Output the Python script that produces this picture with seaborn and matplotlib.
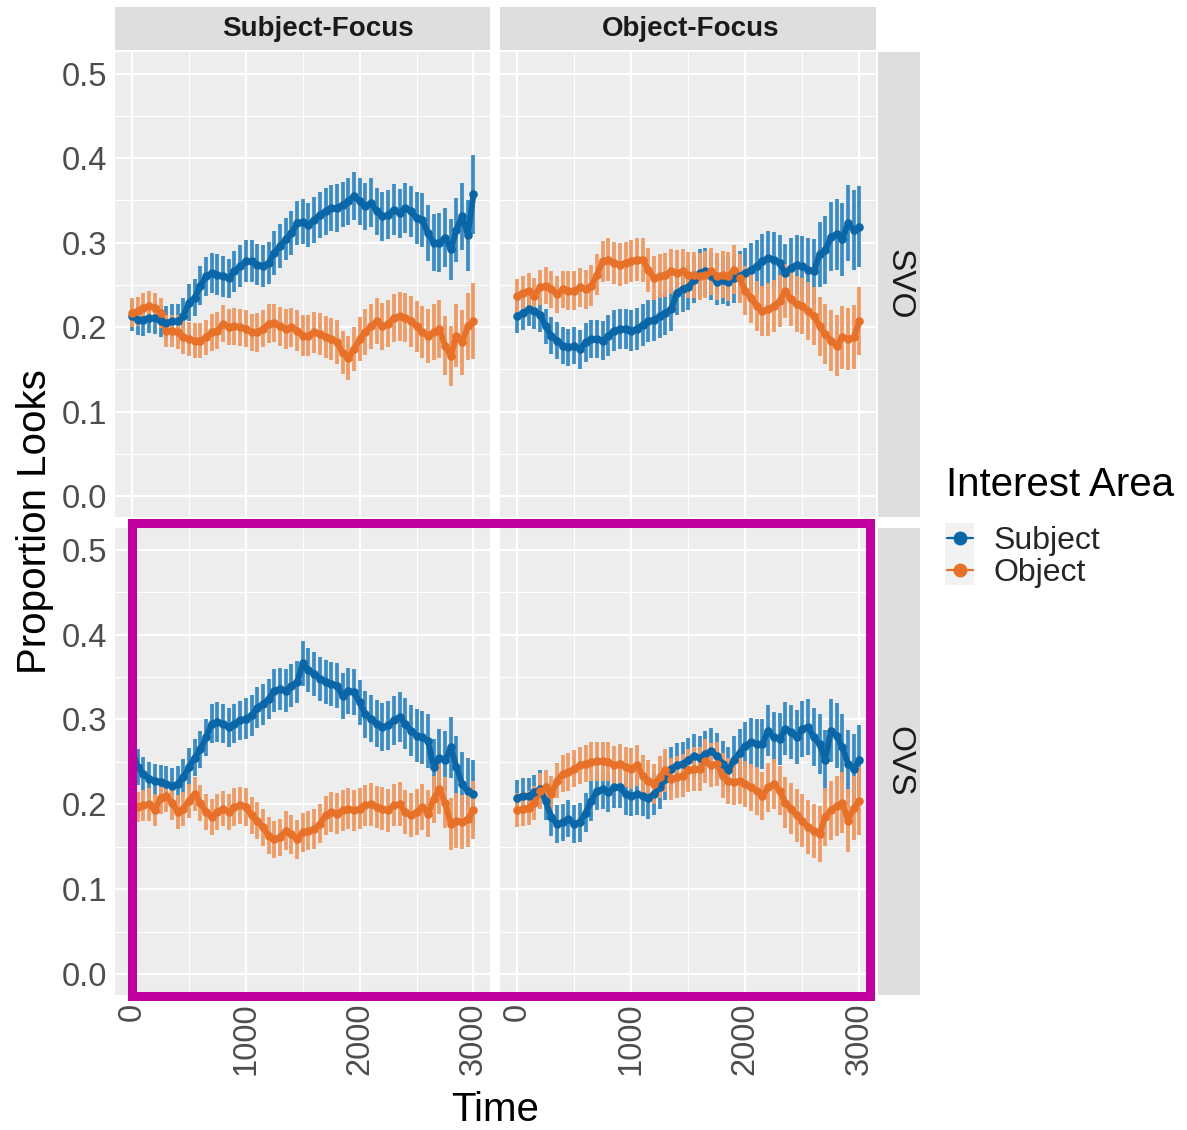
import matplotlib
matplotlib.use("Agg")
import matplotlib.pyplot as plt
import seaborn as sns
import pandas as pd
from matplotlib.patches import Rectangle
from matplotlib.lines import Line2D

# ---------------------------------------------------------------- data
time_ms = list(range(0, 3001, 50))
focus_levels = ["Subject-Focus", "Object-Focus"]
order_levels = ["SVO", "OVS"]
areas = ["Subject", "Object"]
x_ticks = [0, 1000, 2000, 3000]
y_ticks = [0.0, 0.1, 0.2, 0.3, 0.4, 0.5]

# SVO, Subject-Focus
svo_sf_subject = [0.213, 0.209, 0.209, 0.211, 0.211, 0.207, 0.205, 0.207, 0.207, 0.213,
                  0.229, 0.235, 0.249, 0.260, 0.264, 0.262, 0.260, 0.258, 0.266, 0.272,
                  0.278, 0.278, 0.274, 0.272, 0.276, 0.288, 0.296, 0.304, 0.311, 0.323,
                  0.325, 0.321, 0.327, 0.333, 0.337, 0.341, 0.341, 0.345, 0.349, 0.355,
                  0.349, 0.343, 0.347, 0.337, 0.331, 0.333, 0.339, 0.335, 0.341, 0.337,
                  0.329, 0.327, 0.311, 0.300, 0.300, 0.306, 0.292, 0.315, 0.331, 0.309, 0.357]
svo_sf_object = [0.217, 0.219, 0.223, 0.225, 0.223, 0.217, 0.196, 0.196, 0.194, 0.188,
                 0.186, 0.184, 0.184, 0.188, 0.194, 0.196, 0.204, 0.200, 0.201, 0.200,
                 0.198, 0.194, 0.194, 0.198, 0.204, 0.205, 0.201, 0.198, 0.200, 0.196,
                 0.190, 0.190, 0.194, 0.192, 0.188, 0.186, 0.182, 0.170, 0.164, 0.174,
                 0.186, 0.194, 0.201, 0.207, 0.201, 0.204, 0.211, 0.213, 0.211, 0.207,
                 0.201, 0.194, 0.190, 0.194, 0.198, 0.178, 0.166, 0.190, 0.182, 0.201, 0.207]
svo_sf_subject_se = [0.018, 0.018, 0.019, 0.018, 0.019, 0.019, 0.020, 0.020, 0.020, 0.021,
                     0.022, 0.022, 0.023, 0.023, 0.024, 0.024, 0.024, 0.023, 0.024, 0.025,
                     0.025, 0.025, 0.024, 0.025, 0.025, 0.026, 0.026, 0.025, 0.026, 0.026,
                     0.027, 0.026, 0.027, 0.027, 0.028, 0.027, 0.028, 0.027, 0.028, 0.028,
                     0.028, 0.028, 0.029, 0.028, 0.029, 0.029, 0.030, 0.029, 0.030, 0.030,
                     0.031, 0.032, 0.033, 0.034, 0.035, 0.035, 0.036, 0.038, 0.040, 0.042, 0.047]
svo_sf_object_se = [0.017, 0.017, 0.018, 0.018, 0.018, 0.018, 0.019, 0.019, 0.020, 0.020,
                    0.020, 0.021, 0.021, 0.021, 0.022, 0.022, 0.022, 0.021, 0.022, 0.022,
                    0.022, 0.022, 0.023, 0.022, 0.023, 0.023, 0.023, 0.024, 0.023, 0.024,
                    0.024, 0.024, 0.024, 0.025, 0.025, 0.025, 0.026, 0.025, 0.026, 0.026,
                    0.026, 0.027, 0.027, 0.027, 0.028, 0.028, 0.028, 0.029, 0.029, 0.030,
                    0.030, 0.031, 0.032, 0.033, 0.034, 0.035, 0.036, 0.037, 0.038, 0.040, 0.045]

# SVO, Object-Focus
svo_of_subject = [0.213, 0.217, 0.221, 0.219, 0.215, 0.201, 0.190, 0.184, 0.178, 0.176,
                  0.178, 0.174, 0.182, 0.186, 0.186, 0.184, 0.190, 0.196, 0.198, 0.198,
                  0.196, 0.198, 0.203, 0.207, 0.209, 0.213, 0.217, 0.221, 0.241, 0.245,
                  0.247, 0.256, 0.264, 0.266, 0.260, 0.254, 0.256, 0.254, 0.258, 0.260,
                  0.264, 0.268, 0.272, 0.278, 0.282, 0.280, 0.276, 0.264, 0.270, 0.274,
                  0.272, 0.268, 0.266, 0.286, 0.291, 0.307, 0.310, 0.304, 0.323, 0.315, 0.319]
svo_of_object = [0.237, 0.241, 0.243, 0.237, 0.247, 0.249, 0.245, 0.239, 0.245, 0.243,
                 0.243, 0.247, 0.245, 0.249, 0.262, 0.278, 0.280, 0.276, 0.274, 0.276,
                 0.278, 0.280, 0.280, 0.268, 0.258, 0.260, 0.262, 0.266, 0.264, 0.266,
                 0.262, 0.262, 0.260, 0.262, 0.266, 0.260, 0.262, 0.260, 0.268, 0.258,
                 0.243, 0.235, 0.225, 0.219, 0.221, 0.225, 0.231, 0.243, 0.233, 0.227,
                 0.225, 0.219, 0.213, 0.201, 0.192, 0.184, 0.178, 0.188, 0.186, 0.188, 0.207]
svo_of_subject_se = [0.020, 0.020, 0.020, 0.021, 0.021, 0.021, 0.022, 0.022, 0.022, 0.022,
                     0.022, 0.023, 0.023, 0.023, 0.023, 0.023, 0.024, 0.024, 0.024, 0.024,
                     0.024, 0.025, 0.025, 0.025, 0.025, 0.026, 0.026, 0.026, 0.027, 0.027,
                     0.027, 0.027, 0.028, 0.028, 0.028, 0.028, 0.029, 0.029, 0.029, 0.030,
                     0.030, 0.031, 0.031, 0.032, 0.032, 0.033, 0.033, 0.034, 0.035, 0.035,
                     0.036, 0.037, 0.038, 0.039, 0.040, 0.041, 0.042, 0.043, 0.045, 0.047, 0.048]
svo_of_object_se = [0.020, 0.020, 0.021, 0.021, 0.021, 0.022, 0.022, 0.022, 0.022, 0.023,
                    0.023, 0.023, 0.023, 0.024, 0.024, 0.024, 0.025, 0.025, 0.025, 0.025,
                    0.025, 0.025, 0.026, 0.026, 0.026, 0.026, 0.026, 0.027, 0.027, 0.027,
                    0.027, 0.027, 0.028, 0.028, 0.028, 0.028, 0.028, 0.029, 0.029, 0.029,
                    0.029, 0.030, 0.030, 0.030, 0.031, 0.031, 0.031, 0.032, 0.032, 0.033,
                    0.033, 0.034, 0.034, 0.035, 0.035, 0.036, 0.036, 0.037, 0.037, 0.038, 0.040]

# OVS, Subject-Focus
ovs_sf_subject = [0.265, 0.244, 0.236, 0.230, 0.228, 0.226, 0.224, 0.222, 0.224, 0.232,
                  0.244, 0.255, 0.265, 0.279, 0.295, 0.297, 0.295, 0.291, 0.295, 0.299,
                  0.301, 0.305, 0.314, 0.318, 0.324, 0.334, 0.336, 0.334, 0.340, 0.344,
                  0.366, 0.358, 0.354, 0.348, 0.344, 0.342, 0.340, 0.328, 0.334, 0.332,
                  0.320, 0.306, 0.301, 0.295, 0.291, 0.293, 0.299, 0.303, 0.295, 0.287,
                  0.281, 0.279, 0.275, 0.244, 0.255, 0.252, 0.267, 0.244, 0.224, 0.216, 0.212]
ovs_sf_object = [0.191, 0.197, 0.199, 0.200, 0.193, 0.208, 0.210, 0.202, 0.191, 0.195,
                 0.204, 0.212, 0.202, 0.191, 0.185, 0.191, 0.195, 0.191, 0.197, 0.199,
                 0.197, 0.187, 0.181, 0.173, 0.163, 0.159, 0.161, 0.169, 0.165, 0.159,
                 0.167, 0.169, 0.171, 0.177, 0.187, 0.191, 0.189, 0.193, 0.195, 0.193,
                 0.195, 0.199, 0.200, 0.197, 0.195, 0.193, 0.199, 0.200, 0.191, 0.187,
                 0.191, 0.197, 0.189, 0.206, 0.218, 0.202, 0.177, 0.181, 0.179, 0.183, 0.193]
ovs_sf_subject_se = [0.022, 0.021, 0.020, 0.020, 0.020, 0.020, 0.021, 0.021, 0.021, 0.021,
                     0.022, 0.022, 0.022, 0.022, 0.023, 0.023, 0.023, 0.023, 0.023, 0.023,
                     0.024, 0.024, 0.024, 0.024, 0.024, 0.025, 0.025, 0.025, 0.025, 0.025,
                     0.026, 0.026, 0.026, 0.026, 0.026, 0.026, 0.027, 0.027, 0.027, 0.027,
                     0.027, 0.028, 0.028, 0.028, 0.028, 0.029, 0.029, 0.029, 0.030, 0.030,
                     0.031, 0.031, 0.032, 0.033, 0.034, 0.035, 0.036, 0.037, 0.038, 0.039, 0.040]
ovs_sf_object_se = [0.018, 0.018, 0.018, 0.019, 0.019, 0.019, 0.019, 0.020, 0.020, 0.020,
                    0.020, 0.020, 0.021, 0.021, 0.021, 0.021, 0.021, 0.021, 0.022, 0.022,
                    0.022, 0.022, 0.022, 0.022, 0.022, 0.022, 0.022, 0.023, 0.023, 0.023,
                    0.023, 0.023, 0.023, 0.023, 0.023, 0.024, 0.024, 0.024, 0.024, 0.024,
                    0.024, 0.024, 0.025, 0.025, 0.025, 0.025, 0.025, 0.026, 0.026, 0.026,
                    0.027, 0.027, 0.028, 0.028, 0.029, 0.030, 0.031, 0.032, 0.032, 0.033, 0.034]

# OVS, Object-Focus
ovs_of_subject = [0.208, 0.210, 0.210, 0.214, 0.218, 0.204, 0.185, 0.177, 0.179, 0.183,
                  0.177, 0.179, 0.190, 0.204, 0.216, 0.218, 0.214, 0.220, 0.220, 0.212,
                  0.210, 0.212, 0.210, 0.208, 0.212, 0.220, 0.230, 0.242, 0.246, 0.248,
                  0.252, 0.257, 0.255, 0.259, 0.263, 0.257, 0.248, 0.240, 0.252, 0.261,
                  0.269, 0.273, 0.271, 0.271, 0.287, 0.279, 0.277, 0.289, 0.285, 0.279,
                  0.289, 0.291, 0.279, 0.271, 0.252, 0.287, 0.281, 0.267, 0.248, 0.242, 0.252]
ovs_of_object = [0.193, 0.195, 0.196, 0.202, 0.216, 0.220, 0.212, 0.228, 0.236, 0.238,
                 0.242, 0.246, 0.248, 0.250, 0.251, 0.251, 0.250, 0.246, 0.248, 0.244,
                 0.242, 0.246, 0.234, 0.228, 0.224, 0.232, 0.240, 0.230, 0.232, 0.234,
                 0.240, 0.242, 0.242, 0.251, 0.246, 0.248, 0.234, 0.228, 0.226, 0.228,
                 0.224, 0.220, 0.216, 0.210, 0.220, 0.224, 0.216, 0.202, 0.195, 0.187,
                 0.181, 0.173, 0.169, 0.165, 0.185, 0.193, 0.198, 0.202, 0.181, 0.196, 0.204]
ovs_of_subject_se = [0.021, 0.021, 0.021, 0.021, 0.022, 0.022, 0.022, 0.022, 0.022, 0.022,
                     0.022, 0.023, 0.023, 0.023, 0.023, 0.023, 0.023, 0.024, 0.024, 0.024,
                     0.024, 0.024, 0.024, 0.025, 0.025, 0.025, 0.025, 0.025, 0.026, 0.026,
                     0.026, 0.026, 0.026, 0.027, 0.027, 0.027, 0.027, 0.027, 0.028, 0.028,
                     0.028, 0.029, 0.029, 0.029, 0.030, 0.030, 0.031, 0.031, 0.032, 0.032,
                     0.033, 0.033, 0.034, 0.035, 0.036, 0.037, 0.038, 0.039, 0.040, 0.041, 0.042]
ovs_of_object_se = [0.020, 0.020, 0.020, 0.020, 0.021, 0.021, 0.021, 0.021, 0.022, 0.022,
                    0.022, 0.022, 0.022, 0.023, 0.023, 0.023, 0.023, 0.023, 0.023, 0.024,
                    0.024, 0.024, 0.024, 0.024, 0.024, 0.025, 0.025, 0.025, 0.025, 0.025,
                    0.025, 0.026, 0.026, 0.026, 0.026, 0.026, 0.026, 0.027, 0.027, 0.027,
                    0.027, 0.028, 0.028, 0.028, 0.029, 0.029, 0.029, 0.030, 0.030, 0.031,
                    0.031, 0.032, 0.032, 0.033, 0.034, 0.035, 0.035, 0.036, 0.037, 0.038, 0.040]

series = {
    ("SVO", "Subject-Focus", "Subject"): (svo_sf_subject, svo_sf_subject_se),
    ("SVO", "Subject-Focus", "Object"): (svo_sf_object, svo_sf_object_se),
    ("SVO", "Object-Focus", "Subject"): (svo_of_subject, svo_of_subject_se),
    ("SVO", "Object-Focus", "Object"): (svo_of_object, svo_of_object_se),
    ("OVS", "Subject-Focus", "Subject"): (ovs_sf_subject, ovs_sf_subject_se),
    ("OVS", "Subject-Focus", "Object"): (ovs_sf_object, ovs_sf_object_se),
    ("OVS", "Object-Focus", "Subject"): (ovs_of_subject, ovs_of_subject_se),
    ("OVS", "Object-Focus", "Object"): (ovs_of_object, ovs_of_object_se),
}

frames = []
for (order, focus, area), (mean, se) in series.items():
    frames.append(pd.DataFrame({"Time": time_ms, "Prop": mean, "SE": se,
                                "Order": order, "Focus": focus, "Area": area}))
df = pd.concat(frames, ignore_index=True)

# ---------------------------------------------------------------- style
sns.set_theme(style="white")
plt.rcParams["font.family"] = ["Liberation Sans", "DejaVu Sans"]

point_col = {"Subject": "#0B66A8", "Object": "#E8712A"}
bar_col = {"Subject": "#3C8CC4", "Object": "#EE9B66"}
PANEL_BG = "#EDEDED"
STRIP_BG = "#DEDEDE"
TICK_COL = "#4D4D4D"

W, H = 1187, 1130
fig = plt.figure(figsize=(W / 100, H / 100), dpi=100)
fig.patch.set_facecolor("white")


def rect_px(x0, y0, x1, y1):
    return [x0 / W, 1 - y1 / H, (x1 - x0) / W, (y1 - y0) / H]


col_x = [(115, 490), (500, 876)]
row_y = [(52, 517), (528, 995)]

for r, order in enumerate(order_levels):
    for c, focus in enumerate(focus_levels):
        x0, x1 = col_x[c]
        y0, y1 = row_y[r]
        ax = fig.add_axes(rect_px(x0, y0, x1, y1))
        ax.set_facecolor(PANEL_BG)
        sub = df[(df.Order == order) & (df.Focus == focus)]
        for area in areas:
            d = sub[sub.Area == area]
            ax.vlines(d.Time, d.Prop - d.SE, d.Prop + d.SE, color=bar_col[area],
                      linewidth=2.7, zorder=2)
            sns.lineplot(data=d, x="Time", y="Prop", color=point_col[area],
                         linewidth=4.2, estimator=None, legend=False, ax=ax, zorder=3)
            sns.scatterplot(data=d, x="Time", y="Prop", color=point_col[area],
                            s=38, linewidth=0, legend=False, ax=ax, zorder=4)

        ax.set_xlim(-150, 3145)
        ax.set_ylim(-0.0245, 0.5255)
        ax.set_xticks(x_ticks)
        ax.set_xticks([500, 1500, 2500], minor=True)
        ax.set_yticks(y_ticks)
        ax.set_yticks([0.05, 0.15, 0.25, 0.35, 0.45], minor=True)
        ax.grid(which="major", color="white", linewidth=1.6)
        ax.grid(which="minor", color="white", linewidth=0.8)
        ax.set_axisbelow(True)
        for s in ax.spines.values():
            s.set_visible(False)
        ax.set_xlabel("")
        ax.set_ylabel("")
        ax.tick_params(which="minor", length=0)
        ax.tick_params(which="major", length=3.5, width=1.0, color="#333333",
                       labelcolor=TICK_COL, labelsize=23.5, pad=2)
        if c == 0:
            ax.set_yticklabels([f"{v:.1f}" for v in y_ticks])
        else:
            ax.tick_params(axis="y", length=0, labelleft=False)
        if r == 1:
            ax.set_xticklabels([str(v) for v in x_ticks], rotation=90, va="top")
        else:
            ax.tick_params(axis="x", length=0, labelbottom=False)

# facet strips
strip_text_x = [0.541, 0.508]
for c, focus in enumerate(focus_levels):
    x0, x1 = col_x[c]
    sax = fig.add_axes(rect_px(x0, 7, x1, 50))
    sax.set_facecolor(STRIP_BG)
    sax.set_xticks([]); sax.set_yticks([])
    for s in sax.spines.values():
        s.set_visible(False)
    sax.text(strip_text_x[c], 0.5, focus, ha="center", va="center", fontsize=20,
             fontweight="bold", color="#1A1A1A", transform=sax.transAxes)

for r, order in enumerate(order_levels):
    y0, y1 = row_y[r]
    sax = fig.add_axes(rect_px(878, y0, 920, y1))
    sax.set_facecolor(STRIP_BG)
    sax.set_xticks([]); sax.set_yticks([])
    for s in sax.spines.values():
        s.set_visible(False)
    sax.text(0.5, 0.5, order, ha="center", va="center", fontsize=24,
             rotation=-90, color="#1A1A1A", transform=sax.transAxes)

# axis titles
fig.text(35 / W, 1 - 522 / H, "Proportion Looks", rotation=90, ha="center",
         va="center", fontsize=29, color="black")
fig.text(495 / W, 1 - 1110 / H, "Time", ha="center", va="center",
         fontsize=29, color="black")

# legend: title, key background, then the entries
fig.text(946 / W, 1 - 485 / H, "Interest Area", ha="left", va="center",
         fontsize=29, color="black")
fig.add_artist(Rectangle((945 / W, 1 - 585 / H), 29 / W, 62 / H,
                         transform=fig.transFigure, facecolor="#F2F2F2",
                         edgecolor="none", zorder=1))
handles = [Line2D([0], [0], color=point_col[a], marker="o", markersize=9,
                  linewidth=1.6) for a in areas]
leg = fig.legend(handles, areas, loc="upper left",
                 bbox_to_anchor=(947 / W, 1 - 526 / H), frameon=False,
                 fontsize=23, handlelength=0.8, handletextpad=0.65,
                 labelspacing=0.07, borderpad=0.0, borderaxespad=0.0)
leg.set_zorder(5)

# highlight frame around the OVS row
fig.add_artist(Rectangle((131.5 / W, 1 - 995.5 / H), 738 / W, 473 / H,
                         transform=fig.transFigure, fill=False,
                         edgecolor="#C0009F", linewidth=6.5, zorder=10))

fig.savefig("out.png", dpi=100)
